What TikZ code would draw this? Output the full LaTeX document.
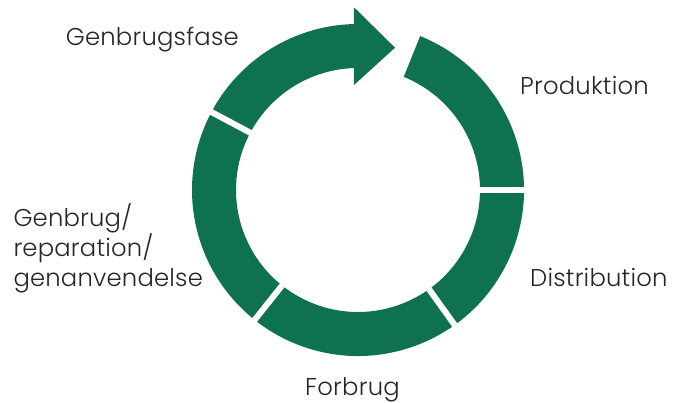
\documentclass[tikz,border=0pt]{standalone}
\usepackage{fontspec}
\setmainfont{Poppins Light}[LetterSpace=0.8]
\definecolor{ringgreen}{RGB}{15,114,78}
\begin{document}
\begin{tikzpicture}[x=1pt,y=1pt,
  seg/.style={fill=ringgreen,draw=none},
  gapline/.style={draw=white,line width=6pt},
  lbl/.style={inner sep=0pt,font=\fontsize{24.3}{30}\selectfont,text=black!85}]
\useasboundingbox (0,0) rectangle (674,403);
\def\Ro{166}
\def\Ri{122}
\coordinate (c) at (358,213);
% main ring: Produktion .. Genbrug/reparation
\fill[seg] ([shift={(68:\Ro)}]c) arc[start angle=68,end angle=-208,radius=\Ro]
  -- ([shift={(-208:\Ri)}]c) arc[start angle=-208,end angle=68,radius=\Ri] -- cycle;
% Genbrugsfase arrow
\fill[seg] ([shift={(152:\Ro)}]c) arc[start angle=152,end angle=91.4,radius=\Ro]
  -- (354,395.7) coordinate (ahtop) -- (395,355.3) coordinate (tip)
  -- (354,318) coordinate (ahbot)
  -- ([shift={(91.9:\Ri)}]c) arc[start angle=91.9,end angle=152,radius=\Ri] -- cycle;
% gaps
\foreach \a in {0,-54.4,-128.5,152}{
  \draw[gapline] ([shift={(\a:100)}]c) -- ([shift={(\a:190)}]c);
}
% labels
\node[lbl,anchor=base west] (gf) at (65.7,357.3) {Genbrugsfase};
\node[lbl,anchor=base west] (pr) at (520,308.7) {Produktion};
\node[lbl,anchor=base west] (di) at (530,116.3) {Distribution};
\node[lbl,anchor=base west] (fo) at (305,7.3) {Forbrug};
\node[lbl,anchor=base west,align=left] (gr) at (13.3,116.3) {Genbrug/\\reparation/\\genanvendelse};
\end{tikzpicture}
\end{document}
